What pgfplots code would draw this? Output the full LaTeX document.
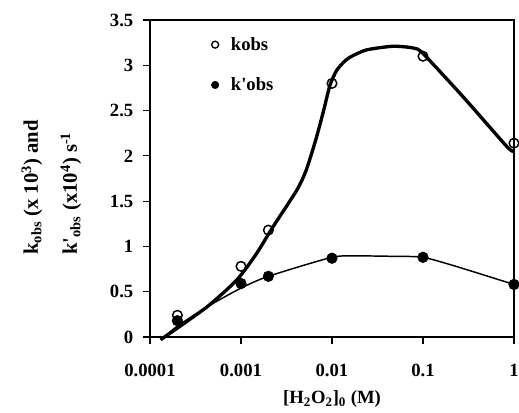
\documentclass[border=0pt]{standalone}
\usepackage{pgfplots}
\pgfplotsset{compat=1.18}
\usepackage{fontspec}
\setmainfont{Liberation Serif}
\newcommand{\lbl}{\fontsize{14}{16}\selectfont\bfseries}
\newcommand{\ylbl}{\fontsize{15.5}{18}\selectfont\bfseries}

\begin{document}
\begin{tikzpicture}[x=0.75pt,y=0.75pt]
\path[use as bounding box] (-150,-76) rectangle (369,337);
\begin{axis}[
  at={(0,0)}, anchor=south west, scale only axis,
  width=273pt, height=237.75pt,
  xmode=log, xmin=1e-4, xmax=1, ymin=0, ymax=3.5,
  xtick={1e-4,1e-3,1e-2,1e-1,1}, xticklabels={0.0001,0.001,0.01,0.1,1},
  xminorticks=false,
  ytick={0,0.5,1,1.5,2,2.5,3,3.5}, yticklabels={0,0.5,1,1.5,2,2.5,3,3.5},
  tick align=outside, xtick pos=bottom, ytick pos=left, major tick length=5pt,
  tick style={black, line width=0.8pt},
  axis line style={line width=0.8pt},
  ticklabel style={font=\lbl},
  xticklabel style={yshift=-12pt},
  yticklabel style={xshift=-4pt},
  clip=false,
  legend style={draw=none, fill=none, at={(0.168,0.955)}, anchor=north west,
    font=\lbl, row sep=15pt, inner sep=0pt},
  legend cell align=left,
]
\addlegendimage{only marks, mark=o, mark size=2.6pt, mark options={line width=1pt, fill=white}}
\addlegendentry{\hspace{7pt}kobs}
\addlegendimage{only marks, mark=*, mark size=2.8pt, mark options={fill=black}}
\addlegendentry{\hspace{7pt}k\textquotesingle obs}

% fitted curves
\addplot[forget plot, black, line width=2.5pt, smooth, tension=0.4] coordinates {
 (0.000131,-0.03)(0.00042,0.33)(0.0009,0.63)(0.00148,0.92)(0.00226,1.22)
 (0.0041,1.62)(0.0052,1.84)(0.0066,2.17)(0.008,2.48)(0.0095,2.78)
 (0.0112,2.94)(0.0133,3.03)(0.0158,3.09)(0.024,3.17)(0.047,3.21)
 (0.079,3.19)(0.1,3.13)(0.277,2.65)(0.84,2.10)(1,2.05)};
\addplot[forget plot, black, line width=1.1pt, smooth, tension=0.4] coordinates {
 (0.000131,-0.03)(0.0002,0.12)(0.00042,0.33)(0.001,0.54)(0.002,0.67)
 (0.01,0.88)(0.02,0.895)(0.05,0.89)(0.1,0.88)(0.23,0.78)(1,0.58)};

% measured points
\addplot[forget plot, only marks, mark=*, mark size=4pt, black] coordinates {
 (0.0002,0.18)(0.001,0.59)(0.002,0.67)(0.01,0.87)(0.1,0.88)(1,0.58)};
\addplot[forget plot, only marks, mark=o, mark size=3.6pt, mark options={line width=1.1pt, fill=white}, black] coordinates {
 (0.0002,0.24)(0.001,0.78)(0.002,1.18)(0.01,2.80)(0.1,3.10)(1,2.14)};
\end{axis}
\node[rotate=90, font=\ylbl, anchor=base west, inner sep=0pt] at (-112,82) {k\textsubscript{obs} (x 10\textsuperscript{3}) and};
\node[rotate=90, font=\ylbl, anchor=base west, inner sep=0pt] at (-73,82) {k\textquotesingle\textsubscript{obs} (x10\textsuperscript{4}) s\textsuperscript{-1}};
\node[font=\lbl] at (182,-62) {[H\textsubscript{2}O\textsubscript{2}]\textsubscript{0} (M)};
\end{tikzpicture}
\end{document}
